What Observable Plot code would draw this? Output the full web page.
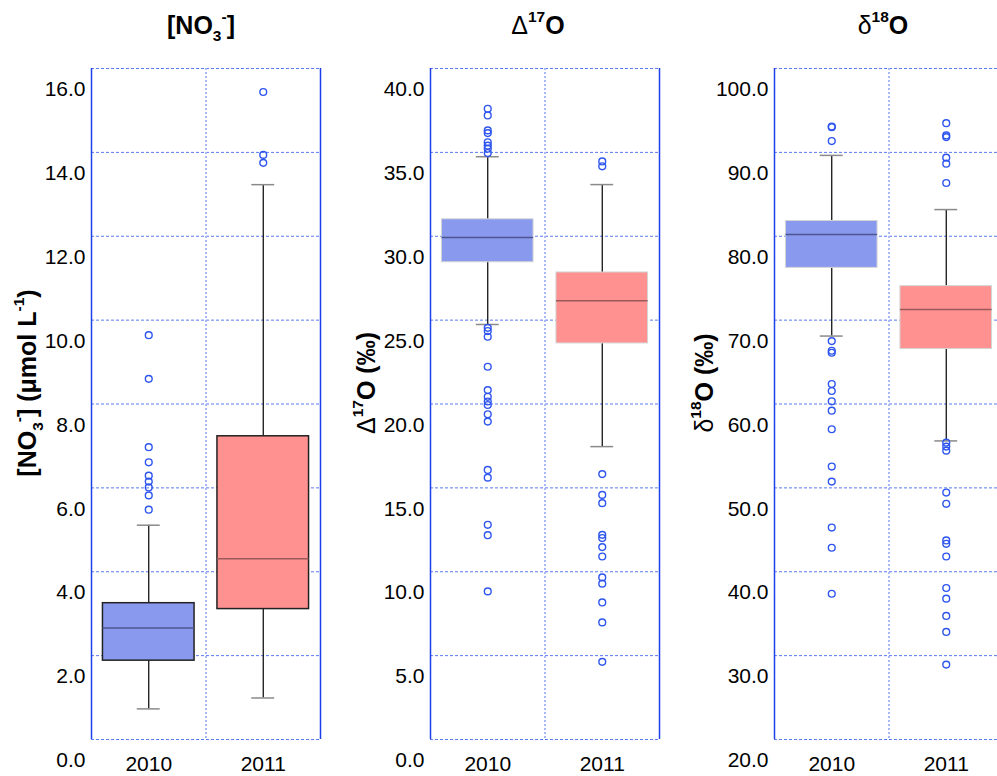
<!DOCTYPE html>
<html>
<head>
<meta charset="utf-8">
<script src="https://cdn.jsdelivr.net/npm/d3@7"></script>
<script src="https://cdn.jsdelivr.net/npm/@observablehq/plot@0.6"></script>
<style>
html, body { margin: 0; padding: 0; overflow: hidden; background: #fff; }
#chart { position: relative; width: 997px; height: 776px; overflow: hidden;
  font-family: "Liberation Sans", Arial, Helvetica, sans-serif; color: #000; }
#chart svg { position: absolute; overflow: visible; }
.title { position: absolute; width: 300px; text-align: center; font-size: 25px; font-weight: bold;
  line-height: 25px; white-space: nowrap; }
.ylab { position: absolute; width: 400px; text-align: center; font-size: 25px; font-weight: bold;
  line-height: 25px; white-space: nowrap; transform: rotate(-90deg); transform-origin: 50% 50%; }
.reg { font-weight: normal; }
.sb { font-size: 0.62em; position: relative; top: 0.42em; }
.sp { font-size: 0.62em; position: relative; top: -0.75em; }
</style>
</head>
<body>
<div id="chart"></div>
<script>
// ---------- data ----------
const years = ["2010", "2011"];

// [NO3-] (µmol L-1)
const no3Ticks = [0, 2, 4, 6, 8, 10, 12, 14, 16];
const no3Q1 = [2.38, 3.61];
const no3Median = [3.16, 4.81];
const no3Q3 = [3.75, 7.73];
const no3WhiskerLow = [1.23, 1.49];
const no3WhiskerHigh = [5.61, 13.73];
const no3Outliers2010 = [10.14, 9.10, 7.47, 7.11, 6.79, 6.65, 6.51, 6.32, 5.98];
const no3Outliers2011 = [15.94, 14.44, 14.25];

// Δ17O (‰)
const d17Ticks = [0, 5, 10, 15, 20, 25, 30, 35, 40];
const d17Q1 = [29.70, 24.86];
const d17Median = [31.17, 27.40];
const d17Q3 = [32.26, 29.09];
const d17WhiskerLow = [25.99, 18.71];
const d17WhiskerHigh = [35.99, 34.33];
const d17Outliers2010 = [38.85, 38.45, 37.56, 37.40, 36.85, 36.65, 36.47, 36.21,
  25.79, 25.60, 25.26, 23.47, 22.08, 21.68, 21.40, 21.19, 20.64, 20.20, 17.32, 16.86, 14.05, 13.43, 10.08];
const d17Outliers2011 = [35.71, 35.42,
  17.07, 15.83, 15.34, 13.45, 13.26, 12.72, 12.16, 10.91, 10.54, 9.42, 8.23, 5.88];

// δ18O (‰)
const d18Ticks = [20, 30, 40, 50, 60, 70, 80, 90, 100];
const d18Q1 = [78.73, 69.05];
const d18Median = [82.70, 73.77];
const d18Q3 = [84.32, 76.55];
const d18WhiskerLow = [70.60, 58.10];
const d18WhiskerHigh = [92.14, 85.68];
const d18Outliers2010 = [95.58, 95.51, 93.85,
  70.00, 68.85, 68.61, 64.88, 64.05, 62.82, 61.70, 59.49, 55.04, 53.25, 47.77, 45.36, 39.88];
const d18Outliers2011 = [95.98, 94.52, 94.32, 91.87, 91.15, 88.85,
  57.89, 57.42, 56.94, 51.94, 50.60, 46.23, 45.83, 44.32, 40.56, 39.29, 37.23, 35.32, 31.43];

// ---------- styles ----------
const FONT = '"Liberation Sans", Arial, Helvetica, sans-serif';
const boxFill = ["#8899ee", "#ff9191"];
const medianColor = ["#4e5690", "#9a5a5a"];
const gridColor = "#5a7af0";
const dividerColor = "#a9b9f5";
const edgeColor = "#1c40ea";
const outlierColor = "#2e55ee";

const chart = document.getElementById("chart");

function panel(cfg) {
  const step = cfg.ticks[1] - cfg.ticks[0];
  const off = step / 4;
  const yDomain = [cfg.ticks[0] + off, cfg.ticks[cfg.ticks.length - 1] + off];
  const grid = cfg.ticks.map(t => t + off);
  const rows = years.map((y, i) => ({
    year: y, pos: i + 1,
    q1: cfg.q1[i], med: cfg.median[i], q3: cfg.q3[i],
    lo: cfg.wlo[i], hi: cfg.whi[i]
  }));
  const caps = rows.flatMap(r => [{pos: r.pos, v: r.lo}, {pos: r.pos, v: r.hi}]);
  const outliers = [
    ...cfg.out[0].map(v => ({pos: 1, v})),
    ...cfg.out[1].map(v => ({pos: 2, v}))
  ];
  const svg = Plot.plot({
    width: 319, height: 731,
    marginLeft: 80, marginRight: 10, marginTop: 10, marginBottom: 50,
    style: {fontFamily: FONT, fontSize: "21px", background: "transparent", overflow: "visible"},
    x: {type: "linear", domain: [0.5, 2.5], axis: null},
    y: {type: "linear", domain: yDomain, axis: null},
    marks: [
      Plot.ruleY(grid, {stroke: gridColor, strokeWidth: 1, strokeDasharray: "3,2"}),
      Plot.ruleX([1.5], {stroke: dividerColor, strokeWidth: 2, strokeDasharray: "2,2"}),
      Plot.ruleX([0.5, 2.5], {stroke: edgeColor, strokeWidth: 1.5}),
      Plot.ruleX(rows, {x: "pos", y1: "lo", y2: "hi", stroke: "#000", strokeWidth: 1.2}),
      Plot.ruleY(caps, {y: "v", x1: d => d.pos - 0.1, x2: d => d.pos + 0.1, stroke: "#8a8a8a", strokeWidth: 1.5}),
      Plot.rect(rows, {x1: d => d.pos - 0.4, x2: d => d.pos + 0.4, y1: "q1", y2: "q3",
        fill: (d, i) => boxFill[i], stroke: cfg.boxStroke, strokeWidth: cfg.boxStrokeWidth}),
      Plot.ruleY(rows, {y: "med", x1: d => d.pos - 0.4, x2: d => d.pos + 0.4,
        stroke: (d, i) => medianColor[i], strokeWidth: 1.5}),
      Plot.dot(outliers, {x: "pos", y: "v", r: 3.4, stroke: outlierColor, strokeWidth: 1.4, fill: "none"}),
      Plot.text(cfg.ticks, {x: () => 0.5, y: d => d, text: d => d.toFixed(1), textAnchor: "end",
        dx: -6, fontSize: 21, fill: "#000"}),
      Plot.text(rows, {x: "pos", y: () => yDomain[0], text: "year", dy: 25, fontSize: 21, fill: "#000"})
    ]
  });
  svg.style.left = (cfg.frameLeft - 80) + "px";
  svg.style.top = "58px";
  chart.appendChild(svg);

  const t = document.createElement("div");
  t.className = "title";
  t.innerHTML = cfg.title;
  t.style.left = (cfg.titleX - 150) + "px";
  t.style.top = "13px";
  chart.appendChild(t);

  const yl = document.createElement("div");
  yl.className = "ylab";
  yl.innerHTML = cfg.ylabel;
  yl.style.left = (cfg.ylabX - 200) + "px";
  yl.style.top = (381 - 12.5) + "px";
  chart.appendChild(yl);
}

panel({
  ticks: no3Ticks, q1: no3Q1, median: no3Median, q3: no3Q3, wlo: no3WhiskerLow, whi: no3WhiskerHigh,
  out: [no3Outliers2010, no3Outliers2011], boxStroke: "#222", boxStrokeWidth: 1.5,
  frameLeft: 91, titleX: 201, ylabX: 29,
  title: '[NO<span class="sb">3</span><span class="sp">-</span>]',
  ylabel: '[NO<span class="sb">3</span><span class="sp">-</span>] (μmol L<span class="sp">-1</span>)'
});
panel({
  ticks: d17Ticks, q1: d17Q1, median: d17Median, q3: d17Q3, wlo: d17WhiskerLow, whi: d17WhiskerHigh,
  out: [d17Outliers2010, d17Outliers2011], boxStroke: "#d4d4d4", boxStrokeWidth: 1,
  frameLeft: 430, titleX: 538, ylabX: 368,
  title: '<span class="reg">Δ</span><span class="sp">17</span>O',
  ylabel: '<span class="reg">Δ</span><span class="sp">17</span>O (‰)'
});
panel({
  ticks: d18Ticks, q1: d18Q1, median: d18Median, q3: d18Q3, wlo: d18WhiskerLow, whi: d18WhiskerHigh,
  out: [d18Outliers2010, d18Outliers2011], boxStroke: "#d4d4d4", boxStrokeWidth: 1,
  frameLeft: 774, titleX: 883, ylabX: 706,
  title: '<span class="reg">δ</span><span class="sp">18</span>O',
  ylabel: '<span class="reg">δ</span><span class="sp">18</span>O (‰)'
});
</script>
</body>
</html>
